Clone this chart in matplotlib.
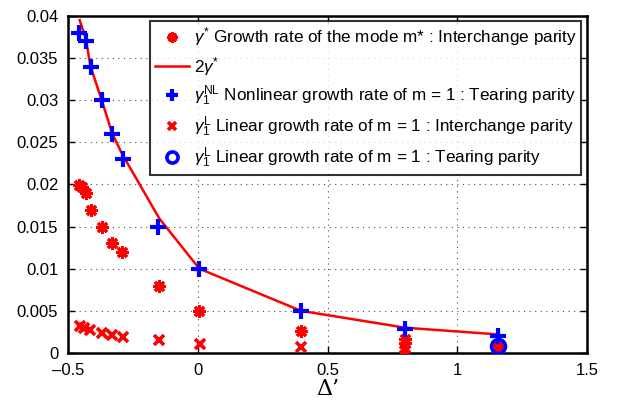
import numpy as np
import matplotlib
matplotlib.use('Agg')
import matplotlib.pyplot as plt
from matplotlib.ticker import FixedLocator, FuncFormatter

# gamma* : growth rate of the mode m*, interchange parity
star_x = [-0.456, -0.447, -0.432, -0.413, -0.370, -0.329, -0.291, -0.149, 0.006, 0.398, 0.799, 0.799, 1.157]
star_y = [0.0199, 0.0197, 0.0190, 0.0170, 0.0150, 0.0130, 0.0120, 0.0080, 0.0050, 0.0026, 0.0017, 0.0012, 0.0008]

# 2 gamma*
line_x = [-0.455, -0.432, -0.413, -0.370, -0.329, -0.291, -0.149, 0.006, 0.398, 0.799, 1.157]
line_y = [0.0395, 0.0374, 0.0340, 0.0300, 0.0260, 0.0236, 0.0160, 0.0100, 0.0050, 0.0030, 0.0022]

# gamma_1^NL : nonlinear growth rate of m = 1, tearing parity
nl_x = [-0.456, -0.431, -0.411, -0.370, -0.329, -0.289, -0.152, 0.005, 0.398, 0.799, 1.158]
nl_y = [0.0380, 0.0370, 0.0340, 0.0300, 0.0260, 0.0230, 0.0150, 0.0100, 0.0050, 0.0029, 0.0020]

# gamma_1^L : linear growth rate of m = 1, interchange parity
lin_x = [-0.455, -0.438, -0.415, -0.370, -0.329, -0.289, -0.149, 0.009, 0.398, 0.799, 0.799]
lin_y = [0.0032, 0.0030, 0.0027, 0.0024, 0.0021, 0.0019, 0.0015, 0.0011, 0.0007, 0.0006, 0.0002]

# gamma_1^L : linear growth rate of m = 1, tearing parity
tear_x = [1.157]
tear_y = [0.0008]

plt.rcParams['font.family'] = ['Liberation Sans', 'DejaVu Sans']
plt.rcParams['mathtext.fontset'] = 'custom'
plt.rcParams['mathtext.rm'] = 'Liberation Sans'
plt.rcParams['mathtext.it'] = 'Liberation Sans:italic'

fig = plt.figure(figsize=(6.18, 4.09), dpi=100)
ax = fig.add_axes([0.110, 0.137, 0.840, 0.824])

asterisk = (8, 2, 0)
ax.plot(star_x, star_y, linestyle='none', marker=asterisk, color='red', markersize=9, mew=2.2,
        label=r'$\gamma^{*}$ Growth rate of the mode m* : Interchange parity', zorder=3)
ax.plot(line_x, line_y, '-', color='red', lw=1.8, label=r'$2\gamma^{*}$', zorder=2)
ax.plot(nl_x, nl_y, linestyle='none', marker='+', color='blue', markersize=11, mew=3,
        label=r'$\gamma_1^{\rm NL}$ Nonlinear growth rate of m = 1 : Tearing parity', zorder=4)
ax.plot(lin_x, lin_y, linestyle='none', marker='x', color='red', markersize=7, mew=2.6,
        label=r'$\gamma_1^{\rm L}$ Linear growth rate of m = 1 : Interchange parity', zorder=3)
ax.plot(tear_x, tear_y, linestyle='none', marker='o', mfc='none', mec='blue', markersize=10, mew=2.6,
        label=r'$\gamma_1^{\rm L}$ Linear growth rate of m = 1 : Tearing parity', zorder=4)

ax.set_xlim(-0.5, 1.5)
ax.set_ylim(0, 0.04)
ax.xaxis.set_major_locator(FixedLocator([-0.5, 0, 0.5, 1, 1.5]))
ax.yaxis.set_major_locator(FixedLocator(np.arange(0, 0.0401, 0.005)))
ax.xaxis.set_major_formatter(FuncFormatter(lambda v, p: ('%g' % v).replace('-', '\u2013')))
ax.yaxis.set_major_formatter(FuncFormatter(lambda v, p: '%g' % round(v, 4)))
ax.tick_params(direction='in', top=True, right=True, labelsize=12, length=5, width=1, pad=7)
for s in ax.spines.values():
    s.set_linewidth(1.8)
ax.grid(True, linestyle=(0, (1, 4)), color='0.3', lw=0.8)
ax.set_xlabel('\u0394\u2019', fontsize=16, family=['DejaVu Serif'], labelpad=0)

leg = ax.legend(loc='upper right', bbox_to_anchor=(0.988, 0.985), fontsize=12.3, frameon=True,
                fancybox=False, edgecolor='black', handlelength=2.0, handletextpad=0.3,
                borderpad=0.25, labelspacing=0.38, borderaxespad=0, markerscale=0.8)
leg.get_frame().set_linewidth(1.5)

fig.savefig('out.png', dpi=100)
